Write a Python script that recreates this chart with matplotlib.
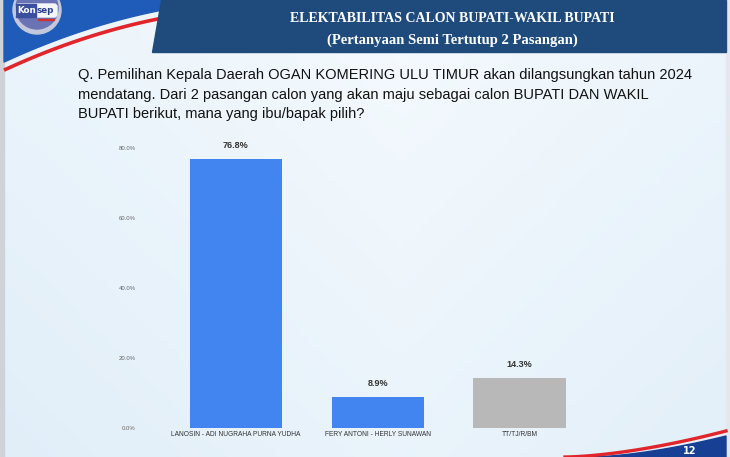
import numpy as np
import matplotlib
matplotlib.use("Agg")
import matplotlib.pyplot as plt
from matplotlib.patches import Polygon, Circle, Rectangle, FancyBboxPatch

# data
categories = ["LANOSIN - ADI NUGRAHA PURNA YUDHA", "FERY ANTONI - HERLY SUNAWAN", "TT/TJ/R/BM"]
values = [76.8, 8.9, 14.3]
bar_colors = ["#4385f0", "#4385f0", "#b8b8b8"]
y_ticks = [0, 20, 40, 60, 80]

title_1 = "ELEKTABILITAS CALON BUPATI-WAKIL BUPATI"
title_2 = "(Pertanyaan Semi Tertutup 2 Pasangan)"
question = ("Q. Pemilihan Kepala Daerah OGAN KOMERING ULU TIMUR akan dilangsungkan tahun 2024\n"
            "mendatang. Dari 2 pasangan calon yang akan maju sebagai calon BUPATI DAN WAKIL\n"
            "BUPATI berikut, mana yang ibu/bapak pilih?")

W, H = 730, 457
fig = plt.figure(figsize=(W / 100, H / 100), dpi=100)

# background layer in pixel coordinates
bg = fig.add_axes([0, 0, 1, 1])
bg.set_xlim(0, W)
bg.set_ylim(H, 0)
bg.axis("off")

# soft light-blue gradient
gx, gy = np.meshgrid(np.linspace(0, 1, 200), np.linspace(0, 1, 120))
shade = 0.55 * np.abs(gx - 0.55) + 0.35 * gy
c0 = np.array([0.96, 0.98, 0.995])
c1 = np.array([0.84, 0.91, 0.965])
img = c0[None, None, :] + (c1 - c0)[None, None, :] * np.clip(shade, 0, 1)[..., None]
bg.imshow(img, extent=[0, W, H, 0], aspect="auto", zorder=0)

# grey page edges
bg.add_patch(Rectangle((0, 0), 4, H, color="#cfd3d8", zorder=1))
bg.add_patch(Rectangle((726, 0), 4, H, color="#e4e8ec", zorder=1))

# top-left swoosh
xs = np.linspace(4, 240, 80)
edge = 64 - 0.47 * xs + 0.00085 * xs ** 2
blue_pts = [(4, 0)] + list(zip(xs, edge)) + [(240, 0)]
bg.add_patch(Polygon(blue_pts, closed=True, color="#1f5bb8", zorder=2))
bg.plot(xs, edge + 8, color="#e0252b", lw=2.6, zorder=2, solid_capstyle="butt")

# header banner
bg.add_patch(Polygon([(161, 0), (726, 0), (726, 52), (152, 52)], closed=True,
                     color="#1f4b7c", zorder=3))
bg.text(452, 18, title_1, color="white", fontsize=10, fontweight="bold",
        family="Liberation Serif", ha="center", va="center", zorder=4)
bg.text(452, 40, title_2, color="white", fontsize=10.5, fontweight="bold",
        family="Liberation Serif", ha="center", va="center", zorder=4)

# logo
bg.add_patch(Circle((37, 10), 24, color="#c3c8dc", zorder=4))
bg.add_patch(Circle((37, 8), 21, color="#6a73b4", zorder=4))
bg.add_patch(FancyBboxPatch((16, 4), 41, 13, boxstyle="round,pad=0,rounding_size=3",
                            color="#f4f6fa", zorder=5))
bg.add_patch(Rectangle((16, 4), 20, 13, color="#3a4f9e", zorder=5))
bg.text(35.5, 10.5, "Kon", color="white", fontsize=6.3, fontweight="bold",
        ha="right", va="center", zorder=6)
bg.text(36.5, 10.5, "sep", color="#2a3f8e", fontsize=6.3, fontweight="bold",
        ha="left", va="center", zorder=6)
bg.add_patch(Rectangle((38, 18.5), 16, 1.2, color="#d03030", zorder=6))

# bottom-right swoosh
rx = np.linspace(565, 726, 80)
redge = H - 0.00766 * (rx - 565) ** 1.6
bx = np.linspace(590, 726, 80)
bedge = H - 0.0081 * (bx - 590) ** 1.6
bg.add_patch(Polygon(list(zip(bx, bedge)) + [(726, H), (590, H)], closed=True,
                     color="#173f93", zorder=2))
bg.plot(rx, redge, color="#e0252b", lw=2.4, zorder=2)
bg.text(683, 456, "12", color="white", fontsize=7, fontweight="bold",
        ha="left", va="bottom", zorder=3)

# question text
bg.text(78, 68, question, fontsize=10.5, color="#111111", ha="left", va="top",
        family="Liberation Sans", linespacing=1.5, zorder=4)

# chart axes
ax = fig.add_axes([140 / W, (H - 428) / H, 475 / W, 297.5 / H])
ax.patch.set_alpha(0)
x = np.arange(len(categories))
bars = ax.bar(x, values, width=0.65, color=bar_colors, zorder=3)
ax.set_xlim(-0.677, 2.674)
ax.set_ylim(0, 85)
for s in ax.spines.values():
    s.set_visible(False)
ax.set_yticks(y_ticks)
ax.set_yticklabels([f"{v:.1f}%" for v in y_ticks], fontsize=4.3, color="#666666",
                   family="Liberation Sans")
ax.tick_params(axis="y", length=0, pad=3)
ax.set_xticks(x)
ax.set_xticklabels(categories, fontsize=4.8, color="#333333", family="Liberation Sans")
ax.tick_params(axis="x", length=0, pad=2.5)
for b, v in zip(bars, values):
    ax.text(b.get_x() + b.get_width() / 2, v + 2.6, f"{v:.1f}%", ha="center",
            va="bottom", fontsize=6.5, fontweight="bold", color="#333333",
            family="Liberation Sans")

fig.savefig("out.png", dpi=100)
